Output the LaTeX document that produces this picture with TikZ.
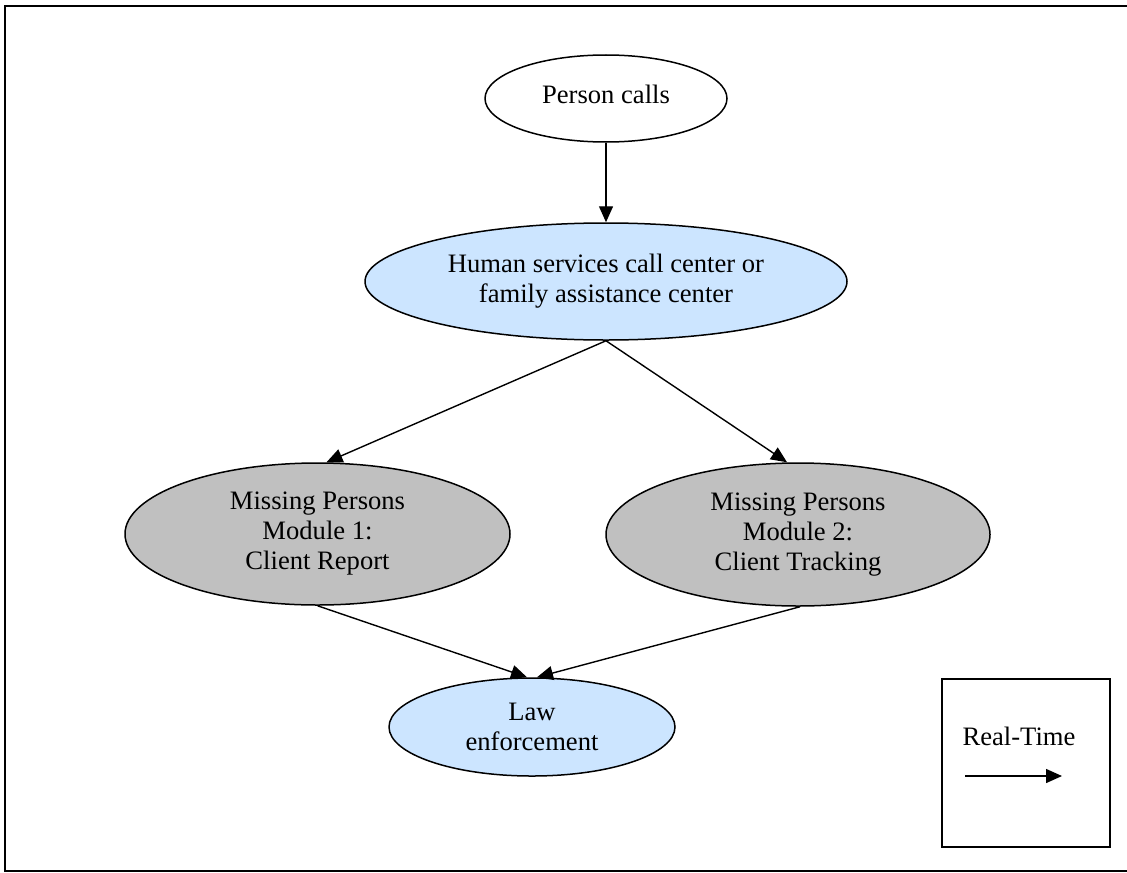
\documentclass[tikz,border=0pt]{standalone}
\usepackage{fontspec}
\setmainfont{Liberation Serif}
\usetikzlibrary{shapes.geometric,arrows.meta}
\definecolor{paleblue}{RGB}{204,229,255}
\definecolor{silvergrey}{RGB}{192,192,192}
\tikzset{
  oval/.style={ellipse, draw=black, line width=0.75pt, inner sep=0pt,
    align=center, font=\fontsize{13.3}{15}\selectfont},
  bluebox/.style={oval, fill=paleblue},
  greybox/.style={oval, fill=silvergrey},
  flow/.style={line width=0.7pt, -{Triangle[length=8pt,width=7pt]}},
}
\begin{document}
\begin{tikzpicture}[x=0.5pt, y=-0.5pt]
\useasboundingbox (0,0) rectangle (1127,872);
% outer frame (runs past the right edge of the page)
\draw[line width=1pt] (1160,6) -- (5,6) -- (5,871) -- (1160,871);

\node[oval, fill=white, minimum width=242pt*0.5, minimum height=87pt*0.5]
  (caller) at (606,98.5) {\raisebox{3.75pt}{Person calls}};
\node[bluebox, minimum width=482pt*0.5, minimum height=117pt*0.5]
  (center) at (606,281.5) {Human services call center or\\family assistance center};
\node[greybox, minimum width=385pt*0.5, minimum height=142pt*0.5]
  (report) at (317.5,534) {Missing Persons\\Module 1:\\Client Report};
\node[greybox, minimum width=384pt*0.5, minimum height=143pt*0.5]
  (tracking) at (798,534.5) {Missing Persons\\Module 2:\\Client Tracking};
\node[bluebox, minimum width=286pt*0.5, minimum height=98pt*0.5]
  (law) at (532,727) {Law\\enforcement};

\draw[flow] (caller.south) -- (center.north);
\draw[flow] (center.south) -- ([xshift=4.5pt]report.north);
\draw[flow] (center.south) -- ([xshift=-5.5pt]tracking.north);
\draw[flow] (report.south) -- ([xshift=-2.5pt]law.north);
\draw[flow] ([xshift=1pt]tracking.south) -- ([xshift=2.5pt]law.north);

% legend
\node[draw=black, line width=0.75pt, minimum width=168pt*0.5, minimum height=168pt*0.5,
  inner sep=0pt] (legend) at (1026,763) {};
\node[font=\fontsize{13.3}{15}\selectfont, anchor=base] (legendtext) at (1019,745) {Real-Time};
\coordinate (legstart) at (965,776);
\coordinate (legend-end) at (1062,776);
\draw[flow] (legstart) -- (legend-end);
\end{tikzpicture}
\end{document}
